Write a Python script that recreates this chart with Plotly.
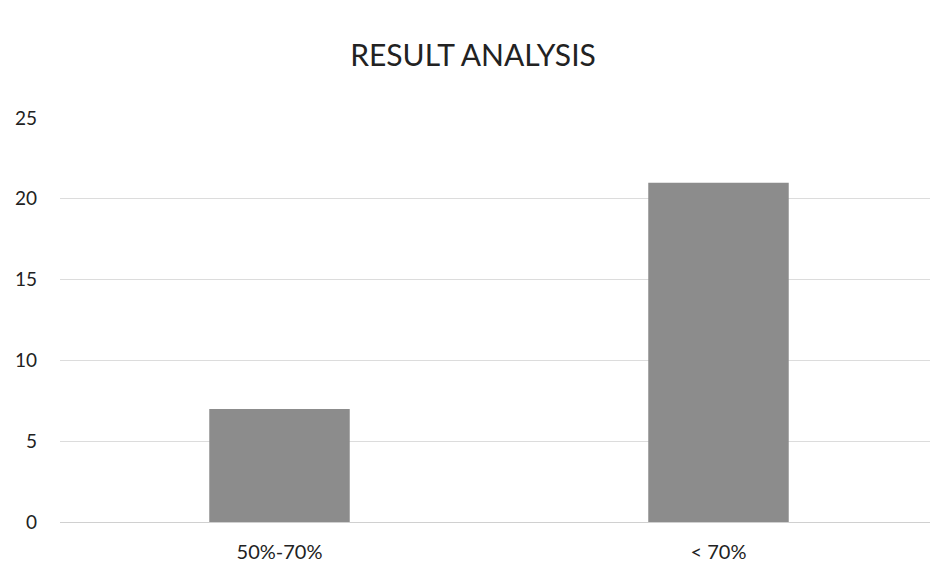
import plotly.graph_objects as go

categories = ["50%-70%", "< 70%"]
values = [7, 21]
y_ticks = [0, 5, 10, 15, 20, 25]

fig = go.Figure(go.Bar(x=categories, y=values, marker=dict(color="#8c8c8c", line=dict(width=0))))

fig.update_layout(
    width=930, height=567,
    paper_bgcolor="white", plot_bgcolor="white",
    font=dict(family="Lato, 'Open Sans', sans-serif", color="#222222", size=17),
    title=dict(text="RESULT ANALYSIS", x=0.5, xanchor="center", y=0.917, yanchor="middle",
               font=dict(size=30, color="#222222")),
    margin=dict(l=52, r=0, t=110, b=53),
    bargap=0.68,
    showlegend=False,
)
fig.update_yaxes(range=[0, 25], tickvals=y_ticks, showgrid=True, gridcolor="#dcdcdc", gridwidth=1,
                 zeroline=False, showline=False, ticklabelstandoff=22, tickfont=dict(size=19))
fig.update_xaxes(showgrid=False, showline=True, linecolor="#d0d0d0", ticklabelstandoff=12,
                 tickfont=dict(size=20))

fig.write_html("out.html")
